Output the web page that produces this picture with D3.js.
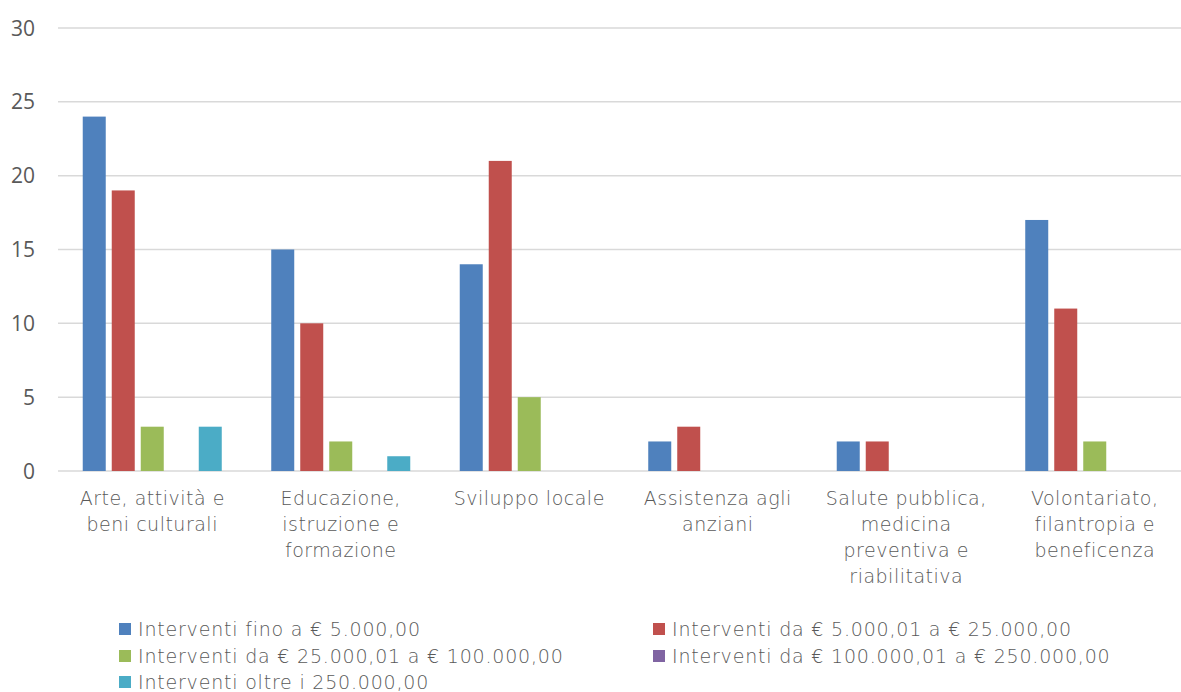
<!DOCTYPE html>
<html>
<head>
<meta charset="utf-8">
<script src="https://cdn.jsdelivr.net/npm/d3@7"></script>
<style>
  body { margin: 0; background: #fff; overflow: hidden; }
  svg { display: block; }
  svg text { font-family: "DejaVu Sans", sans-serif; font-weight: 200; fill: #595959; }
  svg text.ylab { font-family: "Open Sans", sans-serif; font-weight: 400; }
</style>
</head>
<body>
<svg id="chart"></svg>
<script>
const categories = [
  ['Arte, attività e', 'beni culturali'],
  ['Educazione,', 'istruzione e', 'formazione'],
  ['Sviluppo locale'],
  ['Assistenza agli', 'anziani'],
  ['Salute pubblica,', 'medicina', 'preventiva e', 'riabilitativa'],
  ['Volontariato,', 'filantropia e', 'beneficenza']
];
const seriesNames = [
  'Interventi fino a € 5.000,00',
  'Interventi da € 5.000,01 a € 25.000,00',
  'Interventi da € 25.000,01 a € 100.000,00',
  'Interventi da € 100.000,01 a € 250.000,00',
  'Interventi oltre i 250.000,00'
];
const fino5k = [24, 15, 14, 2, 2, 17];
const da5kA25k = [19, 10, 21, 3, 2, 11];
const da25kA100k = [3, 2, 5, 0, 0, 2];
const da100kA250k = [0, 0, 0, 0, 0, 0];
const oltre250k = [3, 1, 0, 0, 0, 0];
const seriesValues = [fino5k, da5kA25k, da25kA100k, da100kA250k, oltre250k];
const colors = ['#4F81BD', '#C0504D', '#9BBB59', '#8064A2', '#4BACC6'];
const yTicks = [0, 5, 10, 15, 20, 25, 30];

const W = 1181, H = 692;
const margin = {top: 28, left: 58, bottom: 221};
// plot area runs a bit past the right edge of the picture
const width = 1131,
  height = H - margin.top - margin.bottom;

const svg = d3.select('#chart')
  .attr('width', W)
  .attr('height', H);

const chart = svg.append('g')
  .attr('transform', `translate(${margin.left},${margin.top})`);

const x0 = d3.scaleBand()
  .domain(d3.range(categories.length))
  .range([0, width]);

const x1 = d3.scaleBand()
  .domain(d3.range(seriesNames.length))
  .range([0, x0.bandwidth()])
  .paddingInner(6 / 29)
  .paddingOuter(0.853);

const y = d3.scaleLinear()
  .domain([0, 30])
  .range([height, 0]);

// gridlines
chart.selectAll('.grid')
  .data(yTicks)
  .enter().append('line')
  .attr('class', 'grid')
  .attr('x1', 0)
  .attr('x2', width)
  .attr('y1', d => y(d))
  .attr('y2', d => y(d))
  .attr('stroke', '#D9D9D9')
  .attr('stroke-width', 1.5);

// y labels
chart.selectAll('.ylab')
  .data(yTicks)
  .enter().append('text')
  .attr('class', 'ylab')
  .attr('x', -23)
  .attr('y', d => y(d))
  .attr('dy', '0.36em')
  .attr('text-anchor', 'end')
  .style('font-size', '21px')
  .text(d => d);

// bars
const groups = chart.selectAll('.cat')
  .data(categories)
  .enter().append('g')
  .attr('class', 'cat')
  .attr('transform', (d, i) => `translate(${x0(i)},0)`);

groups.selectAll('rect')
  .data((d, i) => seriesValues.map((s, k) => ({k: k, v: s[i]})))
  .enter().append('rect')
  .attr('x', d => x1(d.k))
  .attr('width', x1.bandwidth())
  .attr('y', d => y(d.v))
  .attr('height', d => height - y(d.v))
  .attr('fill', d => colors[d.k]);

// category labels
groups.append('text')
  .attr('x', x0.bandwidth() / 2)
  .attr('y', height + 34)
  .attr('text-anchor', 'middle')
  .style('font-size', '19px')
  .style('letter-spacing', '0.5px')
  .selectAll('tspan')
  .data(d => d)
  .enter().append('tspan')
  .attr('x', x0.bandwidth() / 2)
  .attr('dy', (d, i) => i === 0 ? 0 : 26)
  .text(d => d);

// legend
const legendPos = [[119, 629], [653, 629], [119, 656], [653, 656], [119, 682]];
const legend = svg.selectAll('.legend')
  .data(seriesNames)
  .enter().append('g')
  .attr('class', 'legend')
  .attr('transform', (d, i) => `translate(${legendPos[i][0]},${legendPos[i][1]})`);

legend.append('rect')
  .attr('x', 0)
  .attr('y', -6)
  .attr('width', 12)
  .attr('height', 12)
  .attr('fill', (d, i) => colors[i]);

legend.append('text')
  .attr('x', 19)
  .attr('dy', '0.35em')
  .style('font-size', '19px')
  .style('letter-spacing', '0.8px')
  .text(d => d);
</script>
</body>
</html>
